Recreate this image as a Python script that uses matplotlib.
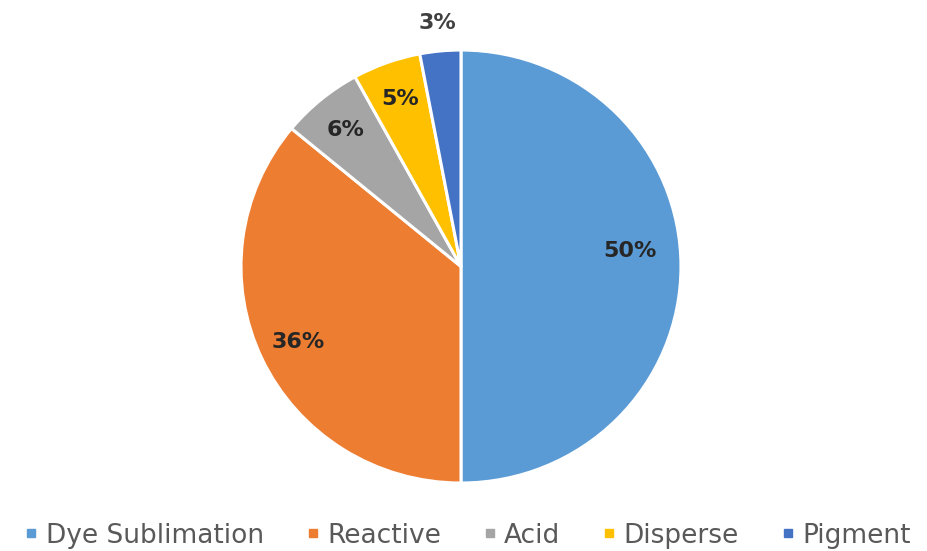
import matplotlib.pyplot as plt
from matplotlib.lines import Line2D

# share of printing by dye type
labels = ['Dye Sublimation', 'Reactive', 'Acid', 'Disperse', 'Pigment']
shares = [50, 36, 6, 5, 3]
colors = ['#5B9BD5', '#ED7D31', '#A5A5A5', '#FFC000', '#4472C4']

fig = plt.figure(figsize=(9.28, 5.51), dpi=100)
ax = fig.add_axes([0.2597, 0.1234, 0.4741, 0.7858])

wedges, texts, autotexts = ax.pie(
    shares, colors=colors, startangle=90, counterclock=False,
    autopct='%d%%', pctdistance=0.82,
    wedgeprops=dict(edgecolor='white', linewidth=2.2),
    textprops=dict(fontsize=16, fontweight='bold', color='#262626'))

# nudge the big slice label up a touch, put the smallest one outside the rim
autotexts[0].set_position((0.77, 0.07))
x, y = autotexts[-1].get_position()
autotexts[-1].set_position((x / 0.82 * 1.13, y / 0.82 * 1.13))
autotexts[-1].set_color('#404040')

ax.set_xlim(-1, 1)
ax.set_ylim(-1, 1)
ax.set_aspect('auto')

handles = [Line2D([], [], marker='s', linestyle='none', markersize=6,
                  markerfacecolor=c, markeredgecolor=c) for c in colors]
fig.legend(handles, labels, loc='center', ncol=5, frameon=False,
           bbox_to_anchor=(0.504, 0.028), fontsize=19, handlelength=0.5,
           handletextpad=0.3, columnspacing=1.6, labelcolor='#595959',
           borderpad=0, borderaxespad=0)

fig.savefig('out.png', dpi=100)
